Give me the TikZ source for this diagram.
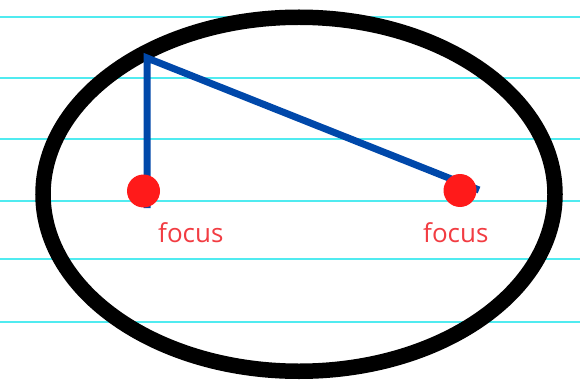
\documentclass[tikz,border=0pt]{standalone}
\usepackage{fontspec}
\setmainfont{Open Sans}
\definecolor{rulecyan}{RGB}{80,235,240}
\definecolor{lineblue}{RGB}{0,72,170}
\definecolor{dotred}{RGB}{255,26,26}
\definecolor{textred}{RGB}{242,60,66}
\begin{document}
\begin{tikzpicture}[x=1pt,y=-1pt,
  rule/.style={draw=rulecyan,line width=2pt},
  bluel/.style={draw=lineblue,line width=7pt},
  dot/.style={circle,fill=dotred,minimum size=33pt,inner sep=0pt},
  lbl/.style={text=textred,font=\fontsize{26}{30}\selectfont,anchor=base west,inner sep=0pt}]
\useasboundingbox (0,0) rectangle (580,382);
\fill[white] (0,0) rectangle (580,382);
\foreach \y in {17,78,139,200.5,259,322}
  \draw[rule] (0,\y) -- (580,\y);
\draw[line width=15.5pt] (299,194.25) ellipse [x radius=256, y radius=177];
\coordinate (p) at (147,58);
\coordinate (b) at (147,208);
\coordinate (e) at (479,190);
\draw[bluel] (b) -- (p) -- (e);
\node[dot] (f1) at (143.5,191) {};
\node[dot] (f2) at (460,190.5) {};
\node[lbl] (t1) at (158,242) {focus};
\node[lbl] (t2) at (423,242) {focus};
\end{tikzpicture}
\end{document}
